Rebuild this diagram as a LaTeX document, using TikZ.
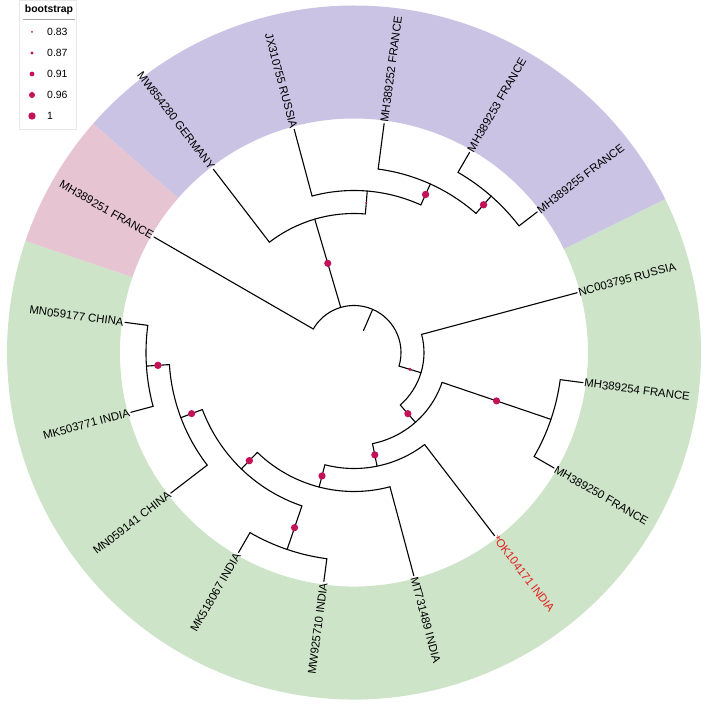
\documentclass[tikz,border=0pt]{standalone}
\usepackage{fontspec}
\setmainfont{Liberation Sans}
\usetikzlibrary{calc}
\definecolor{bandgreen}{RGB}{205,228,200}
\definecolor{bandpurple}{RGB}{203,195,228}
\definecolor{bandpink}{RGB}{230,196,210}
\definecolor{bsdot}{RGB}{196,18,88}
\definecolor{tipred}{RGB}{228,30,30}
\begin{document}
\begin{tikzpicture}[x=1bp,y=1bp,
  br/.style={line width=1.1bp,black,line cap=round},
  tipR/.style={font=\fontsize{11.5}{12}\selectfont,inner sep=1.2bp,anchor=west},
  tipL/.style={font=\fontsize{11.5}{12}\selectfont,inner sep=1.2bp,anchor=east},
  legtxt/.style={font=\fontsize{10.5}{11}\selectfont,inner sep=0pt,anchor=west},
]
\useasboundingbox (-354,-355.5) rectangle (354,352.5);
% ---- coloured bands
\fill[bandgreen] (-198.75:234bp) arc[start angle=-198.75,end angle=26.25,radius=234bp]
  -- (26.25:347bp) arc[start angle=26.25,end angle=-198.75,radius=347bp] -- cycle;
\fill[bandpurple] (26.25:234bp) arc[start angle=26.25,end angle=138.75,radius=234bp]
  -- (138.75:347bp) arc[start angle=138.75,end angle=26.25,radius=347bp] -- cycle;
\fill[bandpink] (138.75:234bp) arc[start angle=138.75,end angle=161.25,radius=234bp]
  -- (161.25:347bp) arc[start angle=161.25,end angle=138.75,radius=347bp] -- cycle;
% ---- tips
\foreach \n/\a in {0/15,1/-7.5,2/-30,3/-52.5,4/-75,5/-97.5,6/-120,7/-142.5,8/-165,9/-187.5,10/150,11/127.5,12/105,13/82.5,14/60,15/37.5}
  \coordinate (t\n) at (\a:231bp);
% tip bases (on parent arcs)
\coordinate (t0b) at (15:70bp);
\coordinate (t1b) at (-7.5:208bp);
\coordinate (t2b) at (-30:208bp);
\coordinate (t3b) at (-52.5:116bp);
\coordinate (t4b) at (-75:139bp);
\coordinate (t5b) at (-97.5:208bp);
\coordinate (t6b) at (-120:208bp);
\coordinate (t7b) at (-142.5:185bp);
\coordinate (t8b) at (-165:208bp);
\coordinate (t9b) at (-187.5:208bp);
\coordinate (t10b) at (150:47bp);
\coordinate (t11b) at (127.5:139bp);
\coordinate (t12b) at (105:162bp);
\coordinate (t13b) at (82.5:185bp);
\coordinate (t14b) at (60:208bp);
\coordinate (t15b) at (37.5:208bp);
% internal nodes and their bases
\coordinate (R) at (66.6:47bp);      \coordinate (Rb) at (66.6:24bp);
\coordinate (D) at (-16.8:70bp);     \coordinate (Db) at (-16.8:47bp);
\coordinate (F) at (-48.63:93bp);    \coordinate (Fb) at (-48.63:70bp);
\coordinate (G) at (-18.75:208bp);   \coordinate (Gb) at (-18.75:93bp);
\coordinate (H) at (-78.52:116bp);   \coordinate (Hb) at (-78.52:93bp);
\coordinate (I) at (-104.53:139bp);  \coordinate (Ib) at (-104.53:116bp);
\coordinate (K) at (-134.06:162bp);  \coordinate (Kb) at (-134.06:139bp);
\coordinate (L) at (-108.75:208bp);  \coordinate (Lb) at (-108.75:162bp);
\coordinate (M) at (-159.375:185bp); \coordinate (Mb) at (-159.375:162bp);
\coordinate (N) at (-176.25:208bp);  \coordinate (Nb) at (-176.25:185bp);
\coordinate (A) at (106.4:139bp);    \coordinate (Ab) at (106.4:47bp);
\coordinate (B) at (85.31:162bp);    \coordinate (Bb) at (85.31:139bp);
\coordinate (C) at (65.625:185bp);   \coordinate (Cb) at (65.625:162bp);
\coordinate (E) at (48.75:208bp);    \coordinate (Eb) at (48.75:185bp);
% ---- arcs
\draw[br] (Db) arc[start angle=-16.8,end angle=150,radius=47bp];
\draw[br] (Fb) arc[start angle=-48.63,end angle=15,radius=70bp];
\draw[br] (Hb) arc[start angle=-78.52,end angle=-18.75,radius=93bp];
\draw[br] (t2b) arc[start angle=-30,end angle=-7.5,radius=208bp];
\draw[br] (Ib) arc[start angle=-104.53,end angle=-52.5,radius=116bp];
\draw[br] (Kb) arc[start angle=-134.06,end angle=-75,radius=139bp];
\draw[br] (Mb) arc[start angle=-159.375,end angle=-108.75,radius=162bp];
\draw[br] (t6b) arc[start angle=-120,end angle=-97.5,radius=208bp];
\draw[br] (Nb) arc[start angle=-176.25,end angle=-142.5,radius=185bp];
\draw[br] (t9b) arc[start angle=-187.5,end angle=-165,radius=208bp];
\draw[br] (Bb) arc[start angle=85.31,end angle=127.5,radius=139bp];
\draw[br] (Cb) arc[start angle=65.625,end angle=105,radius=162bp];
\draw[br] (Eb) arc[start angle=48.75,end angle=82.5,radius=185bp];
\draw[br] (t15b) arc[start angle=37.5,end angle=60,radius=208bp];
% ---- radial branches
\foreach \x in {R,D,F,G,H,I,K,L,M,N,A,B,C,E}
  \draw[br] (\x b) -- (\x);
\foreach \n in {0,...,15}
  \draw[br] (t\n b) -- (t\n);
% ---- bootstrap points
\foreach \x/\s in {D/1.7,F/3.6,G/3.6,H/3.6,I/3.6,K/3.7,L/3.6,M/3.6,N/3.7,A/3.6,B/1.0,C/3.7,E/3.7}
  \fill[bsdot] ($(\x b)!0.5!(\x)$) circle[radius=\s bp];
% ---- tip labels
\node[tipR,rotate=15] (l0) at (t0) {NC003795 RUSSIA};
\node[tipR,rotate=-7.5] (l1) at (t1) {MH389254 FRANCE};
\node[tipR,rotate=-30] (l2) at (t2) {MH389250 FRANCE};
\node[tipR,rotate=-52.5,text=tipred] (l3) at (t3) {*OK104171 INDIA};
\node[tipR,rotate=-75] (l4) at (t4) {MT731489 INDIA};
\node[tipL,rotate=82.5] (l5) at (t5) {MW925710 INDIA};
\node[tipL,rotate=60] (l6) at (t6) {MK518067 INDIA};
\node[tipL,rotate=37.5] (l7) at (t7) {MN059141 CHINA};
\node[tipL,rotate=15] (l8) at (t8) {MK503771 INDIA};
\node[tipL,rotate=-7.5] (l9) at (t9) {MN059177 CHINA};
\node[tipL,rotate=-30] (l10) at (t10) {MH389251 FRANCE};
\node[tipL,rotate=-52.5] (l11) at (t11) {MW854280 GERMANY};
\node[tipL,rotate=-75] (l12) at (t12) {JX310755 RUSSIA};
\node[tipR,rotate=82.5] (l13) at (t13) {MH389252 FRANCE};
\node[tipR,rotate=60] (l14) at (t14) {MH389253 FRANCE};
\node[tipR,rotate=37.5] (l15) at (t15) {MH389255 FRANCE};
% ---- legend
\draw[fill=white,draw=gray!18,line width=0.5bp] (-335,352.5) rectangle (-278,223.5);
\node[font=\bfseries\fontsize{10.5}{11}\selectfont,inner sep=0pt] (legtitle) at (-305,342.5) {bootstrap};
\coordinate (lgA) at (-331,333.5);
\coordinate (lgB) at (-279,333.5);
\draw[line width=0.6bp,gray!70] (lgA) -- (lgB);
\foreach \v/\y/\s in {0.83/320.5/1.0,0.87/299.5/1.6,0.91/278.5/2.4,0.96/257.5/3.0,1/236.5/3.7}{
  \fill[bsdot] (-322,\y) circle[radius=\s bp];
  \node[legtxt] at (-307,\y) {\v};
}
\end{tikzpicture}
\end{document}
